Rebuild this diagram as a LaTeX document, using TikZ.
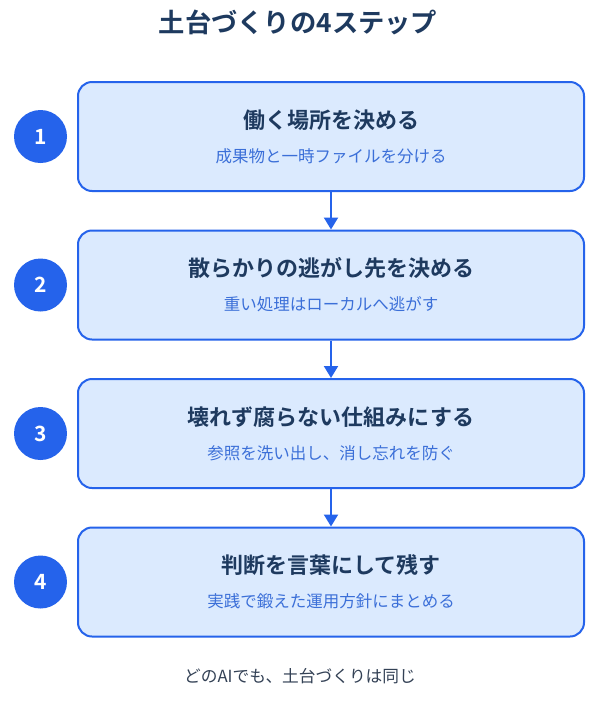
\documentclass[tikz,border=0pt]{standalone}
\usepackage{fontspec}
\newfontfamily\jp{Noto Sans CJK JP}
\newfontfamily\jpb{Noto Sans CJK JP Bold}
\usetikzlibrary{arrows.meta}
\definecolor{navy}{HTML}{1E3A5F}
\definecolor{stepblue}{HTML}{2563EB}
\definecolor{fillblue}{HTML}{DBEAFE}
\definecolor{subblue}{HTML}{3B6FD8}
\definecolor{footgray}{HTML}{334155}
\tikzset{
  stepbox/.style={draw=stepblue, line width=2pt, fill=fillblue, rounded corners=14pt, minimum width=506pt, minimum height=109pt, inner sep=0pt},
  numcirc/.style={circle, fill=stepblue, minimum size=53pt, inner sep=0pt, text=white, font=\jpb\fontsize{21}{21}\selectfont},
  headtext/.style={text=navy, font=\jpb\fontsize{22}{24}\selectfont, inner sep=0pt},
  subtext/.style={text=subblue, font=\jp\fontsize{16.5}{18}\selectfont, inner sep=0pt},
  flow/.style={draw=stepblue, line width=2pt, -{Triangle[length=12pt,width=14pt]}},
}
\begin{document}
\begin{tikzpicture}[x=1pt,y=-1pt]
\useasboundingbox (0,0) rectangle (608,702);
\fill[white] (0,0) rectangle (608,702);
\node[text=navy, font=\jpb\fontsize{26.3}{28}\selectfont, inner sep=0pt] (title) at (298,22.5) {土台づくりの4ステップ};

\node[stepbox] (b1) at (331,136.5) {};
\node[stepbox] (b2) at (331,285) {};
\node[stepbox] (b3) at (331,433.5) {};
\node[stepbox] (b4) at (331,582) {};

\node[numcirc] (c1) at (40.5,136.5) {1};
\node[numcirc] (c2) at (40.5,285) {2};
\node[numcirc] (c3) at (40.5,433.5) {3};
\node[numcirc] (c4) at (40.5,582) {4};

\node[headtext] (h1) at (331,120) {働く場所を決める};
\node[subtext] (s1) at (331,156) {成果物と一時ファイルを分ける};
\node[headtext] (h2) at (331,268.5) {散らかりの逃がし先を決める};
\node[subtext] (s2) at (331,304.5) {重い処理はローカルへ逃がす};
\node[headtext] (h3) at (331,417) {壊れず腐らない仕組みにする};
\node[subtext] (s3) at (331,453) {参照を洗い出し、消し忘れを防ぐ};
\node[headtext] (h4) at (331,565.5) {判断を言葉にして残す};
\node[subtext] (s4) at (331,601.5) {実践で鍛えた運用方針にまとめる};

\draw[flow] (b1.south) -- (b2.north);
\draw[flow] (b2.south) -- (b3.north);
\draw[flow] (b3.south) -- (b4.north);

\node[text=footgray, font=\jp\fontsize{16.7}{18}\selectfont, inner sep=0pt] (foot) at (300,676) {どのAIでも、土台づくりは同じ};
\end{tikzpicture}
\end{document}
